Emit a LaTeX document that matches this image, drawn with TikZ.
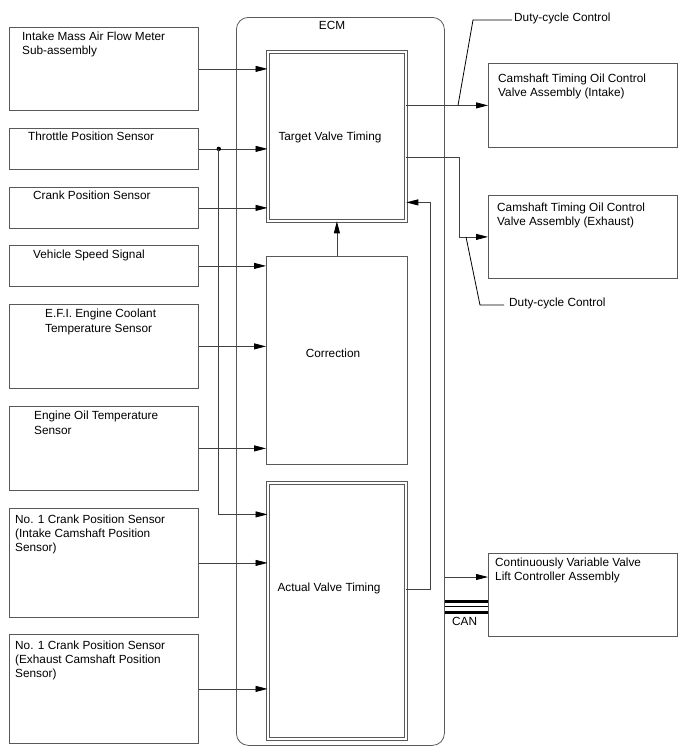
\documentclass[tikz,border=0pt]{standalone}
\usepackage{fontspec}
\setmainfont{Liberation Sans}
\usetikzlibrary{arrows.meta}
\tikzset{
    box/.style={draw=gray!70!black,line width=0.8pt,anchor=north west,inner sep=0pt,minimum width=189pt},
    dbox/.style={draw=gray!70!black,line width=0.8pt,double=white,double distance=2.2pt,anchor=north west,inner sep=0pt,minimum width=138pt},
    txt/.style={anchor=base west,inner sep=0pt,align=left,font=\fontsize{11.8}{14.3}\selectfont},
    sig/.style={draw=gray!50!black,line width=0.8pt,-{Triangle[length=12pt,width=6pt,color=black]}},
    lead/.style={draw=black,line width=0.8pt},
    canbus/.style={draw=black,line width=#1},
}

\begin{document}
\begin{tikzpicture}[x=1pt,y=-1pt]
\useasboundingbox (0,0) rectangle (688,755);
% ECM frame
\node[box,rounded corners=12pt,minimum width=208pt,minimum height=728pt] (ecm) at (236,17) {};
\node[txt,anchor=base] (ecmlbl) at (332,29) {ECM};
% sensors (base = last line)
\node[box,minimum height=83pt] (maf) at (9,27) {};
\node[txt] at (22,54.3) {Intake Mass Air Flow Meter\\Sub-assembly};
\node[box,minimum height=41pt] (tps) at (9,128) {};
\node[txt] at (28,140) {Throttle Position Sensor};
\node[box,minimum height=41pt] (cps) at (9,187) {};
\node[txt] at (33,199) {Crank Position Sensor};
\node[box,minimum height=41pt] (vss) at (9,245) {};
\node[txt] at (33,258) {Vehicle Speed Signal};
\node[box,minimum height=84pt] (ect) at (9,304) {};
\node[txt] at (45,332) {E.F.I. Engine Coolant\\Temperature Sensor};
\node[box,minimum height=84pt] (eot) at (9,406) {};
\node[txt] at (34,434) {Engine Oil Temperature\\Sensor};
\node[box,minimum height=109pt] (cmpi) at (9,508) {};
\node[txt] at (15,551.6) {No. 1 Crank Position Sensor\\(Intake Camshaft Position\\Sensor)};
\node[box,minimum height=109pt] (cmpe) at (9,634) {};
\node[txt] at (15,677.6) {No. 1 Crank Position Sensor\\(Exhaust Camshaft Position\\Sensor)};
% ECM blocks
\node[dbox,minimum height=169pt] (tvt) at (267.5,51.5) {};
\node[txt,anchor=base] at (330,140) {Target Valve Timing};
\node[box,minimum width=141pt,minimum height=208pt] (cor) at (266,256) {};
\node[txt,anchor=base] at (333,357) {Correction};
\node[dbox,minimum height=256pt] (avt) at (267.5,482.5) {};
\node[txt,anchor=base] at (329,591) {Actual Valve Timing};
% actuators
\node[box,minimum height=84pt] (ocvi) at (488,63) {};
\node[txt] at (498,96.3) {Camshaft Timing Oil Control\\Valve Assembly (Intake)};
\node[box,minimum height=83pt] (ocve) at (488,195) {};
\node[txt] at (497,225.3) {Camshaft Timing Oil Control\\Valve Assembly (Exhaust)};
\node[box,minimum height=83pt] (cvvl) at (488,553) {};
\node[txt] at (495,580.3) {Continuously Variable Valve\\Lift Controller Assembly};
\node[txt] (dc1) at (514,21) {Duty-cycle Control};
\node[txt] (dc2) at (509,306) {Duty-cycle Control};
\node[txt] (can) at (452,625) {CAN};
% inputs
\draw[sig] (maf.east) -- (maf.east -| tvt.west);
\draw[sig] (tps.east) -- (tps.east -| tvt.west);
\draw[sig] (cps.east) -- (cps.east -| tvt.west);
\draw[sig] (vss.east) -- (vss.east -| cor.west);
\draw[sig] (ect.east) -- (ect.east -| cor.west);
\draw[sig] (eot.east) -- (eot.east -| cor.west);
\draw[sig] (cmpi.east) -- (cmpi.east -| avt.west);
\draw[sig] (cmpe.east) -- (cmpe.east -| avt.west);
\path (tps.east) ++(20,0) coordinate (tj);
\fill[black] (tj) circle (2.2pt);
\draw[sig] (tj) |- ([yshift=96.5pt]avt.west);
% inside ECM
\draw[sig] (cor.north) -- (tvt.south);
\draw[sig] ([yshift=21.5pt]avt.east) -- ++(24,0) |- ([yshift=-66pt]tvt.east);
% outputs
\draw[sig] (ocvi.west -| tvt.east) -- (ocvi.west);
\draw[sig] ([yshift=-21pt]tvt.east) -- ++(53,0) |- (ocve.west);
\draw[sig] (ecm.east |- 0,577) -- (cvvl.west |- 0,577);
\draw[canbus=3pt] (ecm.east |- 0,601) -- (cvvl.west |- 0,601);
\draw[canbus=0.8pt] (ecm.east |- 0,606.8) -- (cvvl.west |- 0,606.8);
\draw[canbus=3pt] (ecm.east |- 0,612.5) -- (cvvl.west |- 0,612.5);
% leaders
\path (ocvi.west) ++(-30,0) coordinate (dc1j);
\path (ocve.west) ++(-22,0) coordinate (dc2j);
\draw[lead] (dc1j) -- (473,20) -- ([xshift=-2pt,yshift=1pt]dc1.base west);
\draw[lead] (dc2j) -- (480,305) -- ([xshift=-5pt,yshift=1pt]dc2.base west);
\end{tikzpicture}
\end{document}
